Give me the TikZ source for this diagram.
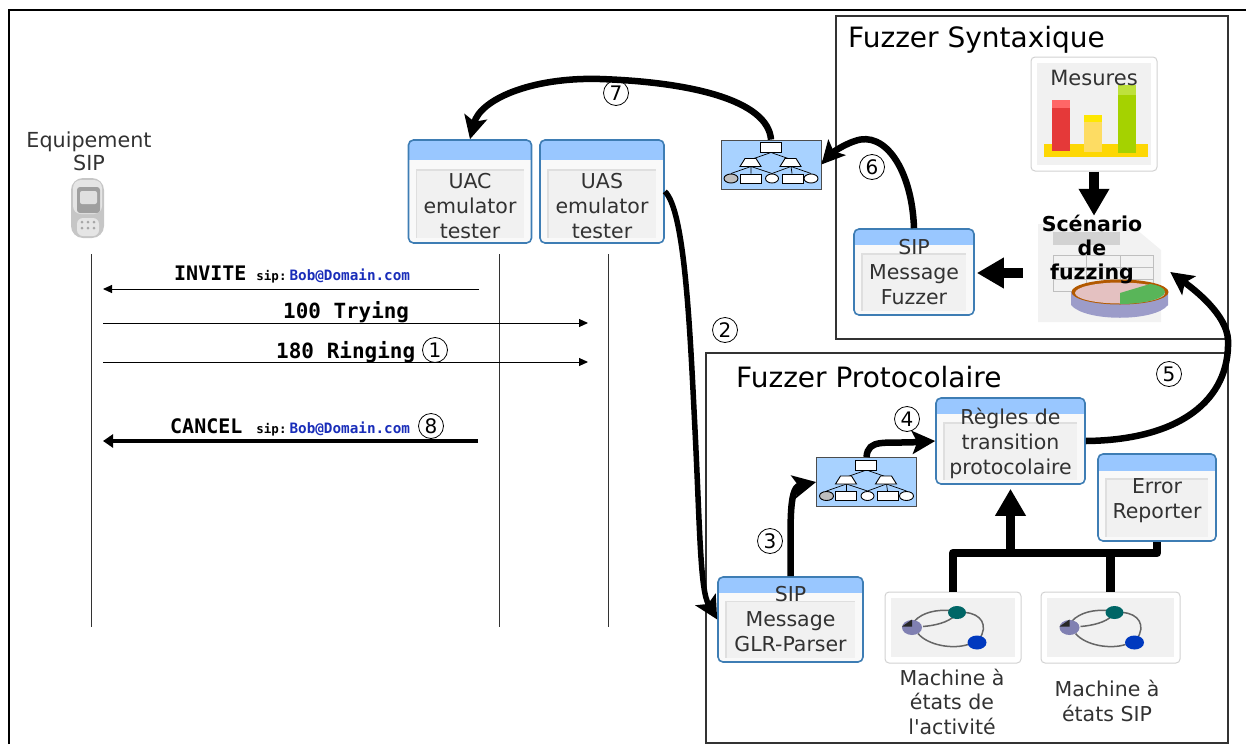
\documentclass[tikz,border=0pt]{standalone}
\usepackage{fontspec}
\setmainfont{DejaVu Sans}
\setmonofont{DejaVu Sans Mono}
\usetikzlibrary{positioning,shapes,arrows.meta,calc}
\definecolor{winblue}{RGB}{62,125,180}
\definecolor{winbar}{RGB}{153,199,255}
\definecolor{winface}{RGB}{249,249,249}
\definecolor{panelgray}{RGB}{241,241,241}
\definecolor{textgray}{RGB}{50,50,50}
\definecolor{treeblue}{RGB}{168,210,255}
\definecolor{uriblue}{RGB}{25,45,185}
\definecolor{bargreen}{RGB}{165,210,0}
\definecolor{bargreentop}{RGB}{190,225,60}
\newcommand{\sipuri}{{\fontsize{12.5}{14}\selectfont sip:\hspace{3pt}\textcolor{uriblue}{\fontsize{14.3}{14}\selectfont Bob@Domain.com}}}
\tikzset{
  winbox/.style={draw=winblue,line width=1.6pt,rounded corners=5pt,fill=winface,align=center,inner sep=0pt,
    text=textgray,font=\fontsize{20.5}{25}\selectfont,
    path picture={
      \fill[winbar,sharp corners] (path picture bounding box.north west) rectangle ($(path picture bounding box.north east)!.19!(path picture bounding box.south east)$);
      \fill[panelgray,sharp corners] ($(path picture bounding box.north west)!.29!(path picture bounding box.south west)+(8,0)$) rectangle ($(path picture bounding box.north east)!.95!(path picture bounding box.south east)+(-8,0)$);
      \draw[gray!25,line width=1.5pt,sharp corners] ($(path picture bounding box.north west)!.95!(path picture bounding box.south west)+(8,0)$) -- ($(path picture bounding box.north west)!.29!(path picture bounding box.south west)+(8,0)$) -- ($(path picture bounding box.north east)!.29!(path picture bounding box.south east)+(-8,0)$);
    }},
  imgbox/.style={draw=gray!35,line width=1pt,rounded corners=4pt,fill=white,inner sep=0pt,
    path picture={
      \fill[panelgray,sharp corners] ($(path picture bounding box.north west)+(6,6)$) rectangle ($(path picture bounding box.south east)+(-6,-6)$);
    }},
  framebox/.style={draw=black!80,line width=1.2pt,inner sep=0pt},
  treebox/.style={draw=black!70,line width=.8pt,fill=treeblue,minimum width=100pt,minimum height=49pt,inner sep=0pt},
  titletext/.style={inner sep=0pt,anchor=west,font=\fontsize{28}{30}\selectfont},
  plaintext/.style={inner sep=0pt,align=center,text=textgray,font=\fontsize{20.5}{24.5}\selectfont},
  msgtext/.style={inner sep=0pt,anchor=base west,font=\ttfamily\bfseries\fontsize{20}{24}\selectfont},
  numtag/.style={circle,draw,line width=.8pt,inner sep=0pt,minimum size=25pt,font=\fontsize{20}{20}\selectfont},
  msgarrow/.style={line width=1pt,-{Triangle[length=9pt,width=8pt]}},
  cancelarrow/.style={line width=4pt,-{Triangle[length=10pt,width=13pt]}},
  flowarrow/.style={line width=6.5pt,-{Stealth[length=23pt,width=23pt,inset=5pt]}},
  bigarrow/.style={line width=9.5pt,-{Triangle[length=27pt,width=29pt]}},
  busline/.style={line width=8.5pt,line join=round},
  orgtree/.pic={
    \draw[line width=.7pt] (0,-12) -- (-20,-5) (0,-12) -- (20,-5) (-20,2) -- (-40,9) (-20,2) -- (-20,9) (-20,2) -- (1,9) (20,2) -- (1,9) (20,2) -- (21,9) (20,2) -- (40,9);
    \draw[fill=white,line width=.9pt] (-11,-22) rectangle (10,-12);
    \draw[fill=white,line width=.9pt] (-26,-6) -- (-15,-6) -- (-10,2) -- (-31,2) -- cycle;
    \draw[fill=white,line width=.9pt] (14,-6) -- (25,-6) -- (30,2) -- (9,2) -- cycle;
    \draw[fill=gray!50,line width=.9pt] (-40,14) ellipse (7 and 4.5);
    \draw[fill=white,line width=.9pt] (-31,9.5) rectangle (-10,18.5);
    \draw[fill=white,line width=.9pt] (1,14) ellipse (6.5 and 4.5);
    \draw[fill=white,line width=.9pt] (11,9.5) rectangle (32,18.5);
    \draw[fill=white,line width=.9pt] (40,14) ellipse (7 and 4.5);
  },
  statemachine/.pic={
    \draw[gray!80!black,line width=1.5pt] (-39,-6) .. controls (-30,-16) and (-15,-18) .. (-2,-17);
    \draw[gray!80!black,line width=1.5pt] (-30,-1) .. controls (-18,-2) and (-5,-5) .. (2,-12);
    \draw[gray!80!black,line width=1.5pt] (12,-15) .. controls (28,-14) and (36,-2) .. (26,12);
    \draw[gray!80!black,line width=1.5pt] (-35,6) .. controls (-25,18) and (0,22) .. (15,17);
    \fill[blue!25!gray!80] (-41,0) ellipse (10 and 7.5);
    \fill[black!85] (-51,-1) -- (-41,-8) -- (-41,-1) -- cycle;
    \fill[teal!80!black] (4,-15) ellipse (9 and 6.5);
    \fill[blue!70!cyan!75!black] (24,15) ellipse (9.5 and 7);
  }
}

\begin{document}
\begin{tikzpicture}[x=1pt,y=-1pt]
\useasboundingbox (0,0) rectangle (1246,744);

% Outer frame
\draw[line width=2pt] (9,744) -- (9,10) -- (1246,10);

% Fuzzer frames
\node[framebox,minimum width=392pt,minimum height=323pt] (syntaxframe) at (1032,177.5) {};
\node[framebox,minimum width=522pt,minimum height=390pt] (protoframe) at (967,548) {};
\node[titletext] (syntaxtitle) at (848,40) {Fuzzer Syntaxique};
\node[titletext] (prototitle) at (736,377) {Fuzzer Protocolaire};

% SIP device
\node[plaintext,font=\fontsize{20.7}{23}\selectfont] (device) at (89,151) {Equipement\\SIP};
\fill[gray!45,rounded corners=12pt] (71,178) rectangle (104,238);
\fill[gray!20,rounded corners=8pt] (73,180) rectangle (102,214);
\fill[gray!75,rounded corners=3pt] (77,187) rectangle (100,213);
\fill[gray!25,rounded corners=2pt] (80,191) rectangle (97,204);
\fill[gray!20,rounded corners=6pt] (77,218) rectangle (99,236);
\foreach \x in {82,88,94}
    \foreach \y in {222,228}
        \fill[gray!70] (\x,\y) circle (1.5);

% Lifelines
\foreach \name/\x in {dev/91, uac/499, uas/608} {
    \coordinate (\name top) at (\x,254);
    \coordinate (\name bot) at (\x,627);
    \draw[line width=.9pt,black!80] (\name top) -- (\name bot);
}

% Messages
\foreach \msg/\xa/\xb/\y/\sty in {invite/479/103/289/msgarrow, trying/103/588/323/msgarrow, ringing/103/588/362/msgarrow, cancel/478/103/441/cancelarrow} {
    \coordinate (\msg a) at (\xa,\y);
    \coordinate (\msg b) at (\xb,\y);
    \draw[\sty] (\msg a) -- (\msg b);
}
\node[msgtext] (invitetext) at (174,280) {INVITE\hspace{10pt}\sipuri};
\node[msgtext,font=\ttfamily\bfseries\fontsize{20.9}{24}\selectfont] (tryingtext) at (283,318) {100 Trying};
\node[msgtext,font=\ttfamily\bfseries\fontsize{21}{24}\selectfont] (ringingtext) at (276,358) {180 Ringing};
\node[msgtext] (canceltext) at (170,433) {CANCEL\hspace{14pt}\sipuri};

% Windows (the rules push the text down in its box)
\foreach \name/\x/\y/\w/\h/\txt in {
    uac/470/191.5/123/103/{\rule{0pt}{20pt}\\UAC\\emulator\\tester},
    uas/602/191.5/124/103/{\rule{0pt}{20pt}\\UAS\\emulator\\tester},
    fuzzer/914/272/120/86/{SIP\\Message\\Fuzzer},
    glr/790.5/619.5/145/85/{SIP\\Message\\GLR-Parser},
    regles/1010.5/441/149/86/{\rule{0pt}{22pt}Règles de\\transition\\protocolaire},
    reporter/1157/497.5/118/87/{\rule{0pt}{21pt}Error\\Reporter}}
    \node[winbox,minimum width=\w pt,minimum height=\h pt] (\name) at (\x,\y) {\txt};

% Mesures
\node[imgbox,minimum width=126pt,minimum height=114pt] (mesures) at (1094,114) {};
\fill[yellow!75!orange] (1044,144) rectangle (1148,157);
\fill[red!75!white!90!black] (1052,100) rectangle (1070,151);
\fill[red!60!white] (1052,100) rectangle (1070,108);
\fill[yellow!60!orange!60!white] (1084,115) rectangle (1102,152);
\fill[yellow!90!orange] (1084,115) rectangle (1102,122);
\fill[bargreen] (1118,85) rectangle (1136,153);
\fill[bargreentop] (1118,85) rectangle (1136,95);
\node[plaintext,font=\fontsize{21}{24}\selectfont] (mesurestext) at (1094,78) {Mesures};

% Scenario sheet
\node[inner sep=0pt,minimum width=123pt,minimum height=98pt] (sheet) at (1099.5,273) {};
\fill[gray!10] (1038,224) -- (1130,224) -- (1161,250) -- (1161,322) -- (1038,322) -- cycle;
\fill[gray!35] (1053,232) rectangle (1120,245);
\draw[gray!50,line width=.7pt] (1053,255) rectangle (1153,291);
\foreach \x in {1086,1120}
    \draw[gray!50,line width=.7pt] (\x,255) -- (\x,291);
\foreach \y in {267,279}
    \draw[gray!50,line width=.7pt] (1053,\y) -- (1153,\y);
\fill[blue!30!gray!60] (1071,292) -- (1071,305) .. controls (1085,322) and (1155,322) .. (1168,305) -- (1168,292) -- cycle;
\fill[orange!70!black] (1120,292) ellipse (48.5 and 12.5);
\fill[gray!60!red!35] (1120,293) ellipse (45 and 10.5);
\fill[green!55!black!65] (1120,304) .. controls (1140,304) and (1164,300) .. (1165,292) .. controls (1165,288) and (1158,285) .. (1150,284) -- (1120,293) -- cycle;
\node[inner sep=0pt,align=center,font=\bfseries\fontsize{20.5}{24}\selectfont] (scenario) at (1092,250) {Scénario\\de\\fuzzing};

% State machines
\node[imgbox,minimum width=136pt,minimum height=71pt] (machactivity) at (953,627.5) {};
\node[imgbox,minimum width=139pt,minimum height=71pt] (machsip) at (1110.5,627.5) {};
\pic at (machactivity.center) {statemachine};
\pic at (machsip.center) {statemachine};
\node[plaintext] (machactivitytext) at (952,701.5) {Machine à\\états de\\l\textquotesingle activité};
\node[plaintext] (machsiptext) at (1107,701) {Machine à\\états SIP};

% Message trees
\node[treebox] (treeout) at (771,164.5) {};
\node[treebox] (treein) at (866.5,482) {};
\pic at (treeout.center) {orgtree};
\pic at (treein.center) {orgtree};

% Flow arrows
\draw[flowarrow] (treeout.north) .. controls (768,100) and (690,82) .. (600,79) .. controls (530,77) and (480,100) .. (uac.north);
\draw[flowarrow] (fuzzer.north) .. controls (912,170) and (885,130) .. (855,141) .. controls (840,146) and (830,155) .. (treeout.east);
\draw[flowarrow,line width=5.5pt] (uas.east) .. controls (685,210) and (690,330) .. (695,430) .. controls (700,530) and (700,590) .. (glr.west);
\draw[flowarrow] (glr.north) .. controls (791,530) and (788,488) .. (treein.west);
\draw[flowarrow] (treein.north) .. controls (868,438) and (885,444) .. (regles.west);
\draw[flowarrow] (regles.east) .. controls (1180,440) and (1230,400) .. (1228,340) .. controls (1227,315) and (1195,290) .. ($(sheet.east)+(9,-1)$);
\draw[bigarrow,shorten >=8pt] (mesures.south) -- (mesures.south |- sheet.north);
\draw[bigarrow,shorten <=15pt,shorten >=2pt] (sheet.west) -- (fuzzer.east |- sheet.west);

% State machines to rules
\coordinate (busright) at (reporter.south |- 0,553);
\draw[busline] (machactivity.north) |- (busright) -- (reporter.south);
\draw[busline] (machsip.north) -- (machsip.north |- busright);
\draw[bigarrow,shorten >=4pt] (regles.south |- busright) -- (regles.south);

% Step numbers
\foreach \n/\x/\y in {1/435/350, 2/725/330, 3/770/541, 4/907/419, 5/1169/374, 6/872/167, 7/616/93, 8/431/426}
    \node[numtag] (step\n) at (\x,\y) {\n};
\end{tikzpicture}
\end{document}
